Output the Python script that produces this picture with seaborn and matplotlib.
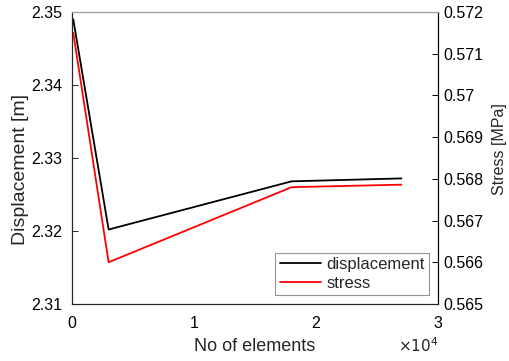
import numpy as np
import pandas as pd
import matplotlib
matplotlib.use("Agg")
import matplotlib.pyplot as plt
import seaborn as sns

# Mesh convergence data
elements = [100, 3000, 18000, 27000]
displacement = [2.3490, 2.3202, 2.3268, 2.3272]
stress = [0.57150, 0.56600, 0.56780, 0.56786]

x_ticks = [0, 10000, 20000, 30000]
x_ticklabels = ["0", "1", "2", "3"]
disp_ticks = [2.31, 2.32, 2.33, 2.34, 2.35]
disp_ticklabels = ["2.31", "2.32", "2.33", "2.34", "2.35"]
stress_ticks = [0.565, 0.566, 0.567, 0.568, 0.569, 0.570, 0.571, 0.572]
stress_ticklabels = ["0.565", "0.566", "0.567", "0.568", "0.569", "0.57", "0.571", "0.572"]

df = pd.DataFrame({"elements": elements, "displacement": displacement, "stress": stress})

sns.set_style("white")
plt.rcParams["font.family"] = ["Liberation Sans", "DejaVu Sans"]
axis_col = "#262626"

fig = plt.figure(figsize=(5.09, 3.61), dpi=100)
ax = fig.add_axes([0.1415, 0.158, 0.719, 0.8088])
ax2 = ax.twinx()

sns.lineplot(data=df, x="elements", y="displacement", ax=ax, color="black",
             lw=1.3, label="displacement", legend=False)
sns.lineplot(data=df, x="elements", y="stress", ax=ax2, color="#ff0000",
             lw=1.3, label="stress", legend=False)

ax.set_xlim(0, 30000)
ax.set_ylim(2.31, 2.35)
ax2.set_ylim(0.565, 0.572)

ax.set_xticks(x_ticks)
ax.set_xticklabels(x_ticklabels)
ax.set_yticks(disp_ticks)
ax.set_yticklabels(disp_ticklabels)
ax2.set_yticks(stress_ticks)
ax2.set_yticklabels(stress_ticklabels)

fs = 11.5
ax.tick_params(axis="y", direction="in", length=4, width=0.7, labelsize=fs,
               colors=axis_col, labelcolor="black", pad=7)
ax.tick_params(axis="x", direction="in", length=4, width=0.7, labelsize=fs,
               colors=axis_col, labelcolor="black", pad=9)
ax2.tick_params(axis="y", direction="in", length=4, width=0.7, labelsize=fs,
                colors="black", labelcolor="black", pad=4)

ax.set_xlabel("No of elements", fontsize=13)
ax.set_ylabel("Displacement [m]", fontsize=14)
ax2.set_ylabel("Stress [MPa]", fontsize=11.5)
ax.xaxis.set_label_coords(0.5, -0.115)
ax.yaxis.set_label_coords(-0.118, 0.46)
ax2.yaxis.set_label_coords(1.148, 0.53)

for a in (ax, ax2):
    for s in a.spines.values():
        s.set_linewidth(0.8)
        s.set_color(axis_col)
ax2.spines["top"].set_color("#a0a0a0")
ax2.spines["right"].set_color("black")

ax.text(1.0, -0.112, r"$\times10^{4}$", transform=ax.transAxes, ha="right",
        va="top", fontsize=11, color=axis_col)

h1, l1 = ax.get_legend_handles_labels()
h2, l2 = ax2.get_legend_handles_labels()
leg = ax2.legend(h1 + h2, l1 + l2, loc="lower right", fontsize=12,
                 frameon=True, fancybox=False, edgecolor="#7a7a7a",
                 handlelength=2.5, handletextpad=0.3, borderpad=0.25,
                 labelspacing=0.2, borderaxespad=0.55)
leg.get_frame().set_linewidth(0.8)

fig.savefig("out.png", dpi=100)
